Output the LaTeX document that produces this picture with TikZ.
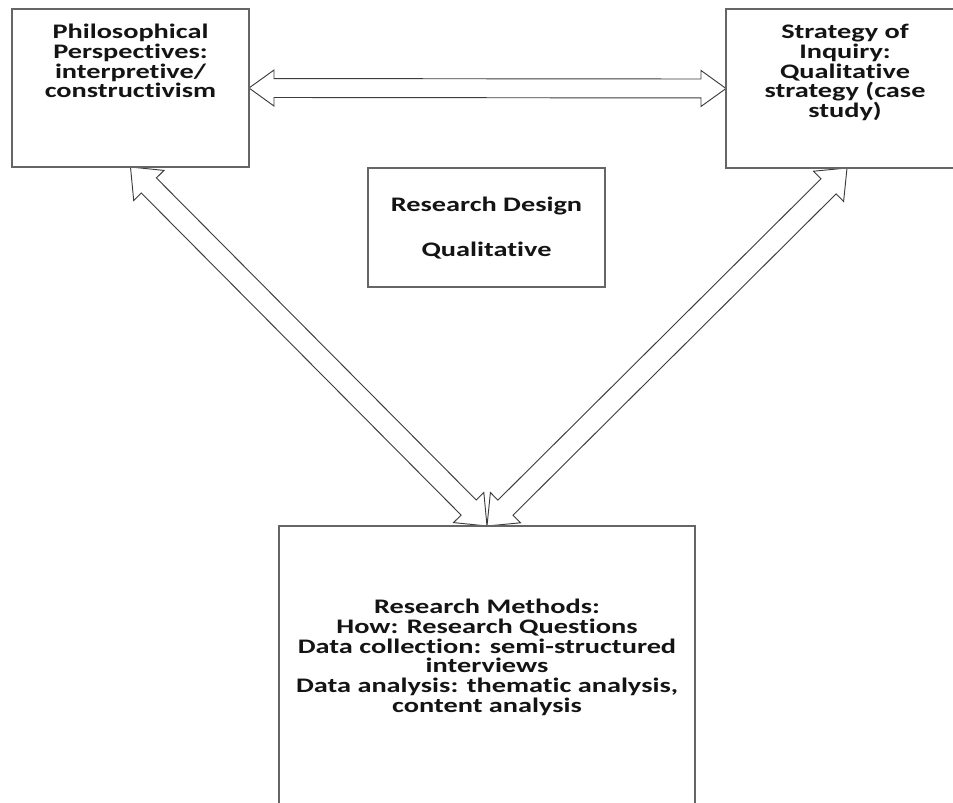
\documentclass[tikz,border=0pt]{standalone}
\usepackage{fontspec}
\setmainfont{Carlito}[FakeStretch=1.37, Ligatures=CommonOff]
\usetikzlibrary{calc}
\definecolor{boxline}{HTML}{666666}
\definecolor{arrline}{HTML}{3C3C3C}
\tikzset{
  box/.style 2 args={draw=boxline, line width=1.5pt, minimum width=#1*0.75pt, minimum height=#2*0.75pt, inner sep=0pt, outer sep=0pt},
  txt/.style={font=\bfseries\fontsize{15.5pt}{14.8pt}\selectfont, align=center, inner sep=0pt, text=black!92},
  blockarrow/.style={draw=arrline, line width=0.7pt, fill=white, line join=miter}
}
% from, to, head length, head half width, shaft half width
\newcommand\blockarr[5]{%
  \coordinate (bh1) at ($(#1)!#3!(#2)$);
  \coordinate (bh2) at ($(#2)!#3!(#1)$);
  \draw[blockarrow] (#1) -- ($(bh1)!#4!90:(#2)$) -- ($(bh1)!#5!90:(#2)$)
    -- ($(bh2)!#5!-90:(#1)$) -- ($(bh2)!#4!-90:(#1)$) -- (#2)
    -- ($(bh2)!#4!90:(#1)$) -- ($(bh2)!#5!90:(#1)$)
    -- ($(bh1)!#5!-90:(#2)$) -- ($(bh1)!#4!-90:(#2)$) -- cycle;}
\begin{document}
\begin{tikzpicture}[x=0.75pt, y=-0.75pt]
\fill[white] (0,0) rectangle (953,803);
\useasboundingbox (0,0) rectangle (953,803);

% boxes (geometry only)
\node[box={237}{158}] (pp) at (130.5,88) {};
\node[box={238}{159}] (si) at (845,88.5) {};
\node[box={237}{119}] (rd) at (486.5,227.5) {};
\node[box={416}{304}] (rm) at (487,678) {};

% arrow end points
\coordinate (ppb) at (pp.south);
\coordinate (sib) at ([xshift=1.5pt]si.south);
\coordinate (rmt) at (rm.north);

% arrows
\blockarr{pp.east}{si.west}{18.75pt}{13.5pt}{7.1pt}
\blockarr{ppb}{rmt}{19.5pt}{16pt}{8pt}
\blockarr{sib}{rmt}{19.5pt}{16pt}{8pt}

% redraw boxes on top of arrow tips
\draw[draw=boxline, line width=1.5pt] (pp.south west) rectangle (pp.north east);
\draw[draw=boxline, line width=1.5pt] (si.south west) rectangle (si.north east);
\draw[draw=boxline, line width=1.5pt] (rm.south west) rectangle (rm.north east);

% texts
\node[txt, anchor=north] (pptxt) at (130.5,24) {Philosophical\\Perspectives:\\interpretive/\\constructivism};
\node[txt, anchor=north] (sitxt) at (845,24) {Strategy of\\Inquiry:\\Qualitative\\strategy (case\\study)};
\node[txt, anchor=north] (rdtxt) at (486.5,197) {Research Design\\[19pt]Qualitative};
\node[txt, anchor=north] (rmtxt) at (487,599) {Research Methods:\\How: Research Questions\\Data collection: semi-structured\\interviews\\Data analysis: thematic analysis,\\content analysis};
\end{tikzpicture}
\end{document}
